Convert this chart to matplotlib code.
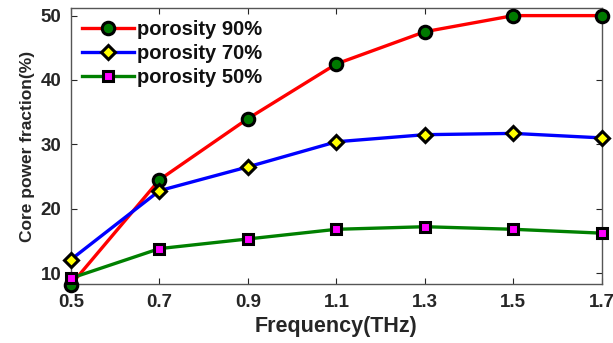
import matplotlib
matplotlib.use("Agg")
import matplotlib.pyplot as plt

freq = [0.5, 0.7, 0.9, 1.1, 1.3, 1.5, 1.7]
por90 = [8.2, 24.5, 34.0, 42.5, 47.5, 50.0, 50.0]
por70 = [12.1, 22.8, 26.5, 30.4, 31.5, 31.7, 31.0]
por50 = [9.2, 13.8, 15.3, 16.8, 17.2, 16.8, 16.2]
labels = ["porosity 90%", "porosity 70%", "porosity 50%"]
xticks = [0.5, 0.7, 0.9, 1.1, 1.3, 1.5, 1.7]
yticks = [10, 20, 30, 40, 50]

plt.rcParams['font.family'] = ['Liberation Sans', 'DejaVu Sans']
plt.rcParams['font.weight'] = 'bold'

fig = plt.figure(figsize=(6.13, 3.43), dpi=100)
ax = fig.add_axes([0.1158, 0.172, 0.866, 0.805])

ax.plot(freq, por90, '-o', color='red', lw=2.4, ms=9, mfc='#007a00', mec='black', mew=2.2, label=labels[0], clip_on=False, zorder=3)
ax.plot(freq, por70, '-D', color='blue', lw=2.4, ms=7.5, mfc='yellow', mec='black', mew=2.2, label=labels[1], clip_on=False, zorder=3)
ax.plot(freq, por50, '-s', color='#008000', lw=2.4, ms=7, mfc='magenta', mec='black', mew=2.2, label=labels[2], clip_on=False, zorder=3)

ax.set_xlim(0.5, 1.7)
ax.set_ylim(8.3, 51.2)
ax.set_xticks(xticks)
ax.set_xticklabels([f"{v:.1f}" for v in xticks])
ax.set_yticks(yticks)
ax.tick_params(direction='in', top=True, right=True, labelsize=13.5, colors='#262626', length=4, pad=7)
for s in ax.spines.values():
    s.set_color('#555555')
    s.set_linewidth(1.0)
for t in ax.get_xticklabels() + ax.get_yticklabels():
    t.set_fontweight('bold')

ax.set_xlabel('Frequency(THz)', fontsize=15.5, fontweight='bold', color='#262626', labelpad=4)
ax.set_ylabel('Core power fraction(%)', fontsize=12.5, fontweight='bold', color='#262626', labelpad=4)

leg = ax.legend(loc='upper left', frameon=False, fontsize=14.5, handlelength=2.6,
                borderaxespad=0.0, labelspacing=0.25, handletextpad=0.15,
                bbox_to_anchor=(0.005, 0.985))
for t in leg.get_texts():
    t.set_fontweight('bold')
    t.set_color('#111111')

fig.savefig('out.png', dpi=100)
